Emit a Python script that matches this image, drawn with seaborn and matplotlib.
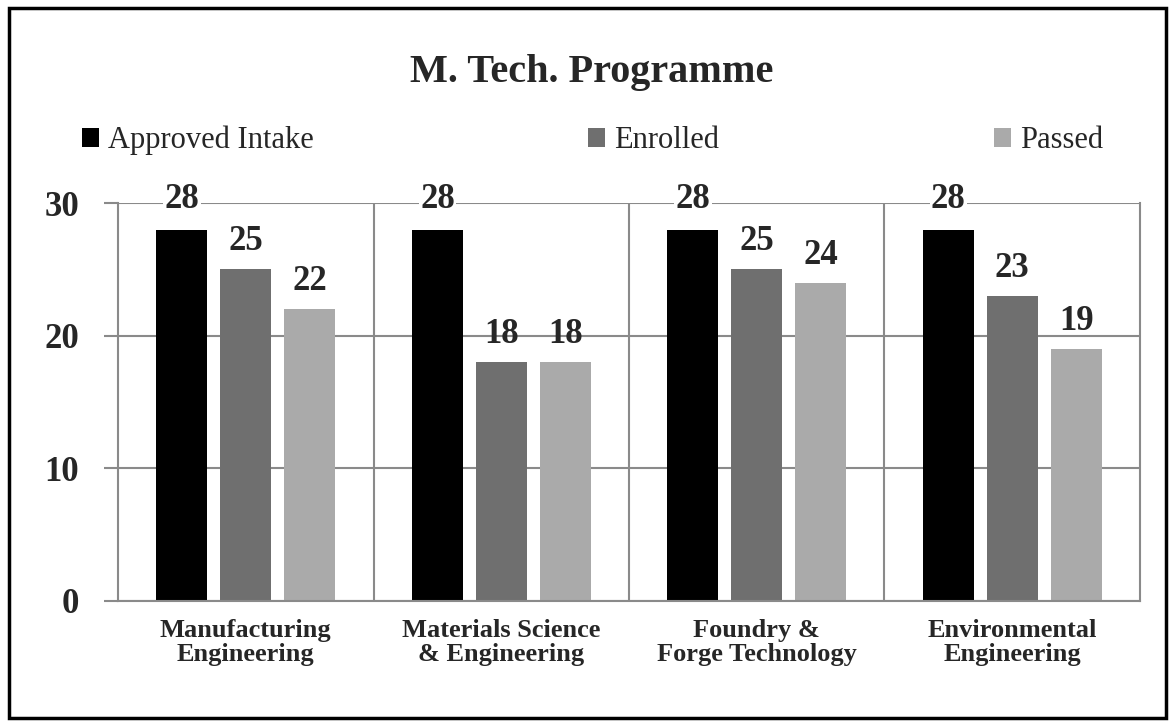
import matplotlib
matplotlib.use("Agg")
import matplotlib.pyplot as plt
from matplotlib.patches import Rectangle
import pandas as pd
import seaborn as sns

# chart data
programmes = ["Manufacturing\nEngineering", "Materials Science\n& Engineering",
              "Foundry &\nForge Technology", "Environmental\nEngineering"]
approved = [28, 28, 28, 28]
enrolled = [25, 18, 25, 23]
passed = [22, 18, 24, 19]
series = ["Approved Intake", "Enrolled", "Passed"]
colors = ["#000000", "#6f6f6f", "#aaaaaa"]
yticks = [0, 10, 20, 30]

df = pd.DataFrame({
    "programme": programmes * 3,
    "value": approved + enrolled + passed,
    "status": [s for s in series for _ in programmes],
})

sns.set_style("white")
plt.rcParams["font.family"] = ["Liberation Serif", "DejaVu Serif"]

fig = plt.figure(figsize=(11.71, 7.22), dpi=100)
ax = fig.add_axes([0.1008, 0.1676, 0.8727, 0.5512])

sns.barplot(data=df, x="programme", y="value", hue="status", palette=colors,
            width=0.75, gap=0.2, edgecolor="none", ax=ax)

ax.set_ylim(0, 30)
ax.set_yticks(yticks)
ax.set_xlim(-0.5, len(programmes) - 0.5)
ax.set_xlabel("")
ax.set_ylabel("")

grid_c = "#8a8a8a"
ax.yaxis.grid(True, color=grid_c, linewidth=1.5)
ax.set_xticks([0.5, 1.5, 2.5], minor=True)
ax.xaxis.grid(True, which="minor", color=grid_c, linewidth=1.5)
ax.set_axisbelow(True)
for side in ["left", "right", "bottom"]:
    ax.spines[side].set_color(grid_c)
    ax.spines[side].set_linewidth(1.5)
ax.spines["top"].set_visible(False)

ax.tick_params(axis="y", which="major", length=10, width=1.5, color=grid_c,
               direction="out", left=True, pad=18, labelsize=25)
ax.tick_params(axis="x", which="both", length=0, pad=13, labelsize=19)
for lab in ax.get_yticklabels():
    lab.set_fontweight("bold")
for lab in ax.get_xticklabels():
    lab.set_fontweight("bold")
    lab.set_linespacing(1.05)

for i, cont in enumerate(ax.containers):
    if i == 0:
        ax.bar_label(cont, padding=10, fontsize=25, fontweight="bold",
                     bbox=dict(facecolor="white", edgecolor="none", pad=1))
    else:
        ax.bar_label(cont, padding=8, fontsize=25, fontweight="bold")

handles, labels = ax.get_legend_handles_labels()
ax.get_legend().remove()
fig.legend(handles, labels, loc="lower left", ncol=3, mode="expand",
           bbox_to_anchor=(0.070, 0.785, 0.872, 0.05), frameon=False,
           fontsize=22, handlelength=0.55, handleheight=0.55,
           handletextpad=0.3, borderpad=0, borderaxespad=0)

fig.text(0.505, 0.900, "M. Tech. Programme", ha="center", va="center",
         fontsize=29, fontweight="bold")

fig.patches.append(Rectangle((0.0077, 0.006), 0.988, 0.983,
                             transform=fig.transFigure, fill=False,
                             edgecolor="black", linewidth=2.5))

fig.savefig("out.png", dpi=100)
